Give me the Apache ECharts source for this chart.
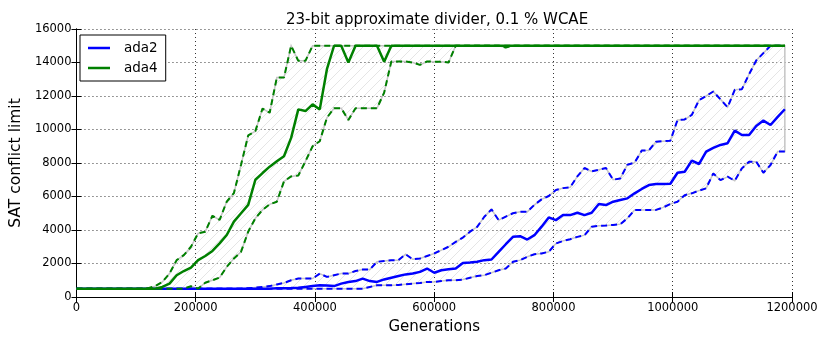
<!DOCTYPE html>
<html lang="en">
<head>
<meta charset="UTF-8">
<title>23-bit approximate divider</title>
<script src="https://cdn.jsdelivr.net/npm/echarts@6/dist/echarts.min.js"></script>
<style>
  html, body { margin: 0; padding: 0; background: #fff; }
  #main { width: 830px; height: 346px; }
</style>
</head>
<body>
<div id="main"></div>
<script>
  // generations (x values), one sample every 12000
  var generations = [
    0, 12000, 24000, 36000, 48000, 60000, 72000, 84000, 96000, 108000,
    120000, 132000, 144000, 156000, 168000, 180000, 192000, 204000, 216000, 228000,
    240000, 252000, 264000, 276000, 288000, 300000, 312000, 324000, 336000, 348000,
    360000, 372000, 384000, 396000, 408000, 420000, 432000, 444000, 456000, 468000,
    480000, 492000, 504000, 516000, 528000, 540000, 552000, 564000, 576000, 588000,
    600000, 612000, 624000, 636000, 648000, 660000, 672000, 684000, 696000, 708000,
    720000, 732000, 744000, 756000, 768000, 780000, 792000, 804000, 816000, 828000,
    840000, 852000, 864000, 876000, 888000, 900000, 912000, 924000, 936000, 948000,
    960000, 972000, 984000, 996000, 1008000, 1020000, 1032000, 1044000, 1056000, 1068000,
    1080000, 1092000, 1104000, 1116000, 1128000, 1140000, 1152000, 1164000, 1176000, 1188000
  ];

  // ada2: mean, upper and lower bound of the SAT conflict limit
  var ada2Mean = [
    500, 500, 500, 500, 500, 500, 500, 500, 500, 500,
    500, 500, 500, 500, 500, 500, 500, 500, 500, 500,
    500, 500, 500, 500, 500, 500, 500, 500, 520, 520,
    530, 550, 600, 650, 700, 680, 650, 800, 900, 950,
    1100, 950, 900, 1050, 1150, 1250, 1350, 1400, 1500, 1700,
    1450, 1600, 1650, 1700, 2030, 2060, 2100, 2200, 2240, 2700,
    3150, 3590, 3630, 3430, 3690, 4200, 4750, 4590, 4890, 4890,
    5030, 4890, 5030, 5550, 5490, 5690, 5790, 5890, 6190, 6450,
    6680, 6740, 6740, 6760, 7420, 7480, 8140, 7940, 8680, 8900,
    9080, 9180, 9930, 9670, 9670, 10210, 10530, 10270, 10750, 11210
  ];
  var ada2Up = [
    500, 500, 500, 500, 500, 500, 500, 500, 500, 500,
    500, 500, 500, 500, 500, 500, 500, 500, 500, 500,
    500, 500, 500, 500, 520, 560, 600, 650, 750, 840,
    1000, 1100, 1100, 1100, 1400, 1200, 1300, 1400, 1400, 1550,
    1640, 1640, 2100, 2150, 2200, 2200, 2550, 2250, 2300, 2450,
    2600, 2800, 3000, 3290, 3550, 3900, 4190, 4790, 5230, 4590,
    4800, 5000, 5090, 5090, 5500, 5830, 6030, 6390, 6500, 6550,
    7200, 7700, 7500, 7600, 7700, 7000, 7080, 7900, 8020, 8740,
    8760, 9270, 9300, 9330, 10570, 10600, 10870, 11750, 12000, 12270,
    11800, 11330, 12370, 12410, 13300, 14120, 14560, 15000, 15000, 15000
  ];
  var ada2Lo = [
    500, 500, 500, 500, 500, 500, 500, 500, 500, 500,
    500, 500, 500, 500, 500, 500, 500, 500, 500, 500,
    500, 500, 500, 500, 500, 500, 500, 500, 500, 500,
    500, 500, 500, 500, 500, 500, 500, 500, 500, 500,
    500, 600, 700, 700, 700, 720, 760, 800, 840, 900,
    900, 950, 1000, 1000, 1040, 1150, 1250, 1300, 1450, 1600,
    1700, 2100, 2200, 2400, 2550, 2600, 2700, 3190, 3350, 3450,
    3590, 3690, 4190, 4250, 4270, 4300, 4350, 4700, 5190, 5200,
    5200, 5200, 5350, 5550, 5690, 6080, 6190, 6350, 6490, 7380,
    6980, 7180, 6940, 7680, 8080, 8080, 7420, 7880, 8680, 8680
  ];

  // ada4
  var ada4Mean = [
    500, 500, 500, 500, 500, 500, 500, 500, 500, 500,
    500, 500, 600, 800, 1300, 1550, 1760, 2200, 2450, 2750,
    3200, 3700, 4500, 5000, 5500, 7000, 7400, 7780, 8100, 8400,
    9500, 11200, 11100, 11500, 11200, 13600, 15000, 15000, 14000, 15000,
    15000, 15000, 15000, 14050, 15000, 15000, 15000, 15000, 15000, 15000,
    15000, 15000, 15000, 15000, 15000, 15000, 15000, 15000, 15000, 15000,
    15000, 15000, 15000, 15000, 15000, 15000, 15000, 15000, 15000, 15000,
    15000, 15000, 15000, 15000, 15000, 15000, 15000, 15000, 15000, 15000,
    15000, 15000, 15000, 15000, 15000, 15000, 15000, 15000, 15000, 15000,
    15000, 15000, 15000, 15000, 15000, 15000, 15000, 15000, 15000, 15000
  ];
  var ada4Up = [
    500, 500, 500, 500, 500, 500, 500, 500, 500, 500,
    520, 650, 900, 1400, 2200, 2500, 3000, 3800, 3900, 4850,
    4600, 5700, 6200, 7900, 9650, 9900, 11250, 11000, 13100, 13100,
    15000, 14100, 14100, 15000, 15000, 15000, 15000, 15000, 15000, 15000,
    15000, 15000, 15000, 15000, 15000, 15000, 15000, 15000, 15000, 15000,
    15000, 15000, 15000, 15000, 15000, 15000, 15000, 15000, 15000, 15000,
    15000, 15000, 15000, 15000, 15000, 15000, 15000, 15000, 15000, 15000,
    15000, 15000, 15000, 15000, 15000, 15000, 15000, 15000, 15000, 15000,
    15000, 15000, 15000, 15000, 15000, 15000, 15000, 15000, 15000, 15000,
    15000, 15000, 15000, 15000, 15000, 15000, 15000, 15000, 15000, 15000
  ];
  var ada4Lo = [
    500, 500, 500, 500, 500, 500, 500, 500, 500, 500,
    500, 500, 500, 500, 500, 500, 640, 500, 850, 1000,
    1160, 1800, 2300, 2700, 3900, 4700, 5200, 5530, 5690, 6900,
    7200, 7250, 8100, 9000, 9300, 10700, 11270, 11270, 10570, 11270,
    11270, 11270, 11270, 12200, 14060, 14060, 14060, 14000, 13860, 14060,
    14050, 14050, 14000, 15000, 15000, 15000, 15000, 15000, 15000, 15000,
    14900, 15000, 15000, 15000, 15000, 15000, 15000, 15000, 15000, 15000,
    15000, 15000, 15000, 15000, 15000, 15000, 15000, 15000, 15000, 15000,
    15000, 15000, 15000, 15000, 15000, 15000, 15000, 15000, 15000, 15000,
    15000, 15000, 15000, 15000, 15000, 15000, 15000, 15000, 15000, 15000
  ];

  var xTicks = [0, 200000, 400000, 600000, 800000, 1000000, 1200000];
  var yTicks = [0, 2000, 4000, 6000, 8000, 10000, 12000, 14000, 16000];

  var FONT = 'DejaVu Sans';
  var chart = echarts.init(document.getElementById('main'));

  function pairs(ys) {
    return ys.map(function (y, i) { return [generations[i], y]; });
  }

  // hatch '/' like fill_between(hatch='/')
  var hatch = document.createElement('canvas');
  hatch.width = 10;
  hatch.height = 10;
  var ctx = hatch.getContext('2d');
  ctx.strokeStyle = '#dedede';
  ctx.lineWidth = 0.8;
  ctx.beginPath();
  ctx.moveTo(0, 10); ctx.lineTo(10, 0);
  ctx.moveTo(-5, 5); ctx.lineTo(5, -5);
  ctx.moveTo(5, 15); ctx.lineTo(15, 5);
  ctx.stroke();

  // band between lower and upper bound, hatched, light grey edge
  function band(name, up, lo) {
    return {
      name: name + '-band',
      type: 'custom',
      silent: true,
      data: [[generations[0], lo[0]]],
      renderItem: function (params, api) {
        var pts = [];
        for (var i = 0; i < up.length; i++) pts.push(api.coord([generations[i], up[i]]));
        for (var j = lo.length - 1; j >= 0; j--) pts.push(api.coord([generations[j], lo[j]]));
        return {
          type: 'polygon',
          shape: {points: pts},
          style: {
            fill: {image: hatch, repeat: 'repeat'},
            stroke: '#c4c4c4',
            lineWidth: 1.5
          }
        };
      }
    };
  }

  function group(name, color, mean, up, lo) {
    var plain = {type: 'line', symbol: 'none', silent: true};
    return [
      band(name, up, lo),
      Object.assign({}, plain, {
        name: name + '-up', data: pairs(up),
        lineStyle: {color: color, width: 2, type: [6, 4]}
      }),
      Object.assign({}, plain, {
        name: name + '-lo', data: pairs(lo),
        lineStyle: {color: color, width: 2, type: [6, 4]}
      }),
      Object.assign({}, plain, {
        name: name, data: pairs(mean), color: color,
        lineStyle: {color: color, width: 2.5}
      })
    ];
  }

  var axisCommon = {
    axisLine: {show: true, lineStyle: {color: '#000', width: 1}},
    axisTick: {show: true, inside: true, length: 5, lineStyle: {color: '#000'}}
  };

  chart.setOption({
    backgroundColor: '#fff',
    animation: false,
    textStyle: {fontFamily: FONT},
    title: {
      text: '23-bit approximate divider, 0.1 % WCAE',
      left: 432, top: 8, textAlign: 'center',
      textStyle: {fontFamily: FONT, fontSize: 15, fontWeight: 'normal', color: '#000'}
    },
    legend: {
      data: ['ada2', 'ada4'],
      orient: 'vertical',
      left: 80, top: 35,
      padding: [6, 8, 6, 8],
      itemGap: 6,
      itemWidth: 22, itemHeight: 2.5,
      icon: 'rect',
      backgroundColor: '#fff',
      borderColor: '#000', borderWidth: 1,
      textStyle: {fontFamily: FONT, fontSize: 13.5, color: '#000', padding: [0, 0, 0, 9]}
    },
    grid: {left: 73, right: 38, top: 29, bottom: 49},
    xAxis: [
      Object.assign({
        type: 'value', min: xTicks[0], max: xTicks[xTicks.length - 1], interval: 200000,
        name: 'Generations', nameLocation: 'middle', nameGap: 23,
        nameTextStyle: {fontFamily: FONT, fontSize: 15, color: '#000'},
        axisLabel: {fontFamily: FONT, fontSize: 11.5, color: '#000', margin: 5,
          formatter: function (v) { return String(v); }},
        splitLine: {show: true, lineStyle: {color: '#000', width: 0.8, type: [1, 3]}}
      }, axisCommon),
      Object.assign({
        type: 'value', position: 'top', min: xTicks[0], max: xTicks[xTicks.length - 1],
        interval: 200000, axisLabel: {show: false}, splitLine: {show: false}
      }, axisCommon)
    ],
    yAxis: [
      Object.assign({
        type: 'value', min: yTicks[0], max: yTicks[yTicks.length - 1], interval: 2000,
        name: 'SAT conflict limit', nameLocation: 'middle', nameGap: 45,
        nameTextStyle: {fontFamily: FONT, fontSize: 15.5, color: '#000'},
        axisLabel: {fontFamily: FONT, fontSize: 11.5, color: '#000', margin: 5,
          formatter: function (v) { return String(v); }},
        splitLine: {show: true, lineStyle: {color: '#000', width: 0.8, type: [1, 3]}}
      }, axisCommon),
      Object.assign({
        type: 'value', position: 'right', min: yTicks[0], max: yTicks[yTicks.length - 1],
        interval: 2000, axisLabel: {show: false}, splitLine: {show: false}
      }, axisCommon)
    ],
    series: group('ada2', '#0000ff', ada2Mean, ada2Up, ada2Lo)
      .concat(group('ada4', '#008000', ada4Mean, ada4Up, ada4Lo))
  });
</script>
</body>
</html>
